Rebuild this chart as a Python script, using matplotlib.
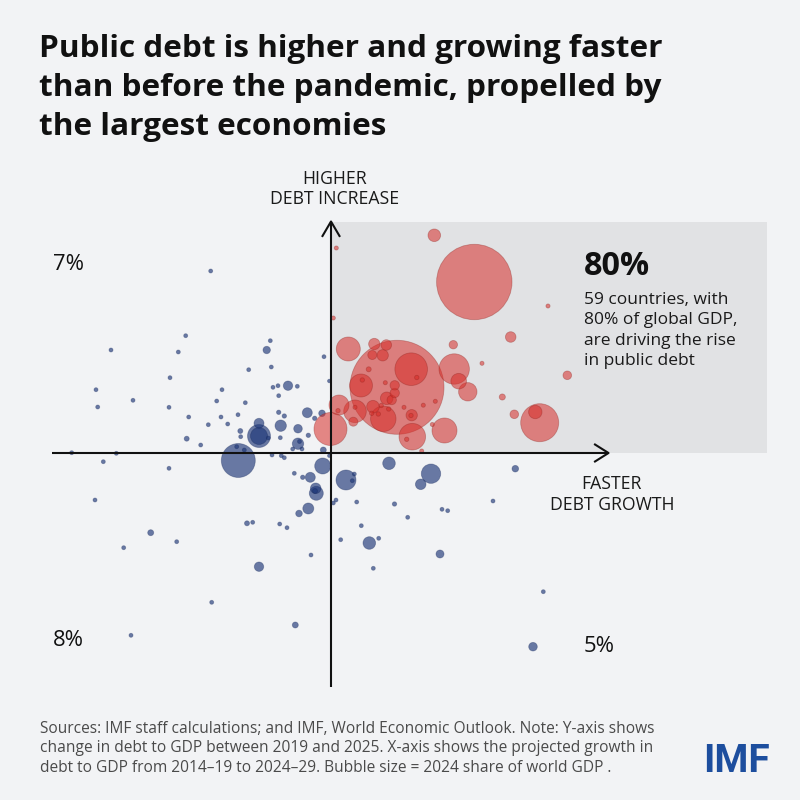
import matplotlib
matplotlib.use("Agg")
import matplotlib.pyplot as plt
from matplotlib.patches import Rectangle
import numpy as np

# ---------------- data ----------------
# x: projected growth in debt-to-GDP (relative units, 0 = axis crossing)
# y: change in debt-to-GDP 2019-2025 (relative units, 0 = axis crossing)
# share: 2024 share of world GDP (%)
red_x = [0.53, 0.23, 10.33, 14.33, 21.7, 17.97, 12.23, 15.1, 23.63, 17.13,
         18.33, 20.87, 20.43, 1.73, 4.33, 5.53, 4.13, 5.17, 6.6, 8.02,
         12.32, 12.77, 13.68, 3.77, 3.13, 3.0, 5.43, 8.58, 6.37, 6.37,
         5.57, 6.07, 4.2, 5.02, 5.77, 5.23, 4.07, 4.73, 0.8, 0.7,
         2.4, 2.4, 2.23, 7.3, 8.07, 8.0, 9.23, 10.43, 8.13, 7.57,
         11.35, 10.13, 9.07, -0.05]
red_y = [20.5, 13.5, 21.77, 17.1, 14.7, 11.6, 10.83, 8.97, 7.77, 5.6,
         3.87, 3.03, 4.1, 10.4, 10.9, 10.8, 9.8, 9.77, 6.57, 8.38,
         8.4, 7.18, 6.12, 8.37, 7.3, 6.75, 7.03, 7.55, 6.77, 6.0,
         5.47, 5.3, 4.63, 4.75, 4.4, 3.42, 3.97, 3.9, 4.8, 4.23,
         4.17, 4.57, 3.13, 4.57, 3.78, 3.75, 4.78, 5.17, 1.63, 1.37,
         2.25, 2.85, 0.2, 2.4]
red_share = [0.05, 0.05, 0.47, 16.8, 0.05, 0.33, 0.21, 0.05, 0.22, 0.11,
             0.22, 4.27, 0.53, 1.70, 0.38, 0.33, 0.24, 0.38, 26.1, 3.14,
             2.73, 0.72, 1.0, 0.074, 0.057, 1.56, 0.05, 0.057, 0.26, 0.26,
             0.47, 0.26, 0.47, 0.057, 0.057, 1.91, 0.057, 0.057, 1.18, 0.057,
             1.51, 0.05, 0.24, 0.05, 0.38, 0.057, 0.05, 0.05, 2.09, 0.057,
             1.85, 0.05, 0.05, 3.22]

blue_x = [-12.03, -14.53, -22.0, -15.27, -6.07, -6.43, -8.23, -5.97, -16.1, -23.5,
          -10.9, -5.8, -5.3, -4.3, -3.37, -5.23, -23.33, -19.8, -16.2, -11.43,
          -8.57, -14.23, -11.0, -9.3, -12.27, -10.33, -5.23, -4.67, -2.37, -1.63,
          -0.9, -0.7, -0.17, -9.07, -9.03, -7.2, -7.2, -7.2, -5.03, -3.3,
          -5.07, -2.27, -3.3, -13.03, -14.43, -9.43, -8.67, -9.27, -25.93, -21.47,
          -3.83, -2.9, -0.77, -5.9, -4.97, -4.67, -0.17, -0.83, -3.67, -2.83,
          -2.07, -1.53, -1.47, -2.27, -3.2, 1.5, 2.13, 2.33, 5.8, 0.23,
          0.5, 2.57, 6.35, -22.77, -16.2, -23.6, -18.03, -15.43, -20.73, -8.4,
          -7.83, -5.13, -4.4, 3.03, 0.97, 3.83, 4.77, -2.0, 4.23, -7.2,
          -11.93, -3.57, -20.0, 10.0, 8.97, 18.43, 16.2, 11.1, 11.67, 7.67,
          10.9, 21.23, 20.2, -1.6, -3.15, -6.27]
blue_y = [18.2, 11.73, 10.3, 10.1, 11.23, 10.3, 8.33, 8.6, 7.53, 6.33,
          6.33, 6.57, 6.73, 6.73, 6.67, 5.73, 4.6, 5.27, 4.57, 5.2,
          5.03, 3.6, 3.6, 3.83, 2.83, 2.9, 4.07, 3.7, 4.03, 3.47,
          3.97, 9.63, 7.2, 2.2, 1.63, 2.97, 1.7, 1.7, 2.73, 2.43,
          1.53, 1.77, 0.93, 0.8, 1.43, 0.63, 0.3, -0.75, 0.03, -0.03,
          0.4, 0.4, 0.3, -0.2, -0.27, -0.47, -0.27, -1.3, -2.03, -2.43,
          -2.43, -3.53, -4.03, -5.55, -6.05, -2.7, -2.77, -2.1, -1.03, -5.0,
          -4.7, -4.9, -5.1, -0.87, -1.53, -4.7, -7.97, -8.87, -9.47, -7.03,
          -6.93, -7.1, -7.47, -7.27, -8.67, -9.0, -8.53, -10.2, -11.53, -11.37,
          -14.93, -17.2, -18.23, -2.07, -3.13, -1.57, -4.8, -5.63, -5.77, -6.43,
          -10.1, -13.87, -19.37, -3.8, 1.15, 1.5]
blue_share = [0.047, 0.047, 0.047, 0.047, 0.047, 0.162, 0.047, 0.047, 0.047, 0.047,
              0.047, 0.047, 0.047, 0.261, 0.047, 0.047, 0.047, 0.047, 0.047, 0.047,
              0.047, 0.047, 0.047, 0.047, 0.047, 0.047, 0.057, 0.057, 0.295, 0.057,
              0.129, 0.047, 0.038, 0.074, 0.047, 0.295, 1.56, 0.854, 0.384, 0.218,
              0.047, 0.057, 0.384, 0.047, 0.074, 0.047, 0.047, 3.41, 0.047, 0.047,
              0.047, 0.047, 0.106, 0.047, 0.047, 0.047, 0.038, 0.756, 0.047, 0.057,
              0.295, 0.332, 0.579, 0.357, 0.129, 1.18, 0.047, 0.047, 0.469, 0.047,
              0.047, 0.047, 0.057, 0.047, 0.047, 0.047, 0.106, 0.047, 0.047, 0.074,
              0.047, 0.047, 0.047, 0.047, 0.047, 0.469, 0.047, 0.047, 0.047, 0.261,
              0.047, 0.106, 0.047, 1.11, 0.332, 0.129, 0.047, 0.047, 0.047, 0.047,
              0.189, 0.047, 0.218, 0.074, 0.047, 0.047]

title_lines = ["Public debt is higher and growing faster",
               "than before the pandemic, propelled by",
               "the largest economies"]
note_lines = ["Sources: IMF staff calculations; and IMF, World Economic Outlook. Note: Y-axis shows",
              "change in debt to GDP between 2019 and 2025. X-axis shows the projected growth in",
              "debt to GDP from 2014\u201319 to 2024\u201329. Bubble size = 2024 share of world GDP ."]
callout_big = "80%"
callout_lines = ["59 countries, with", "80% of global GDP,", "are driving the rise", "in public debt"]
quadrant_labels = ["7%", "8%", "5%"]
y_axis_label = ["HIGHER", "DEBT INCREASE"]
x_axis_label = ["FASTER", "DEBT GROWTH"]
logo = "IMF"

# ---------------- figure ----------------
W, H = 800, 800
BG = "#f2f3f5"
SHADE = "#e1e2e4"
FONT = ["Open Sans", "Lato", "DejaVu Sans"]

fig = plt.figure(figsize=(8, 8), dpi=100)
fig.patch.set_facecolor(BG)
ax = fig.add_axes([0, 0, 1, 1])
ax.set_facecolor(BG)
X0, Y0, PX = 331, 453, 10  # origin pixel and px per unit
ax.set_xlim(-X0 / PX, (W - X0) / PX)
ax.set_ylim(-(H - Y0) / PX, Y0 / PX)
ax.axis("off")

# shaded quadrant
ax.add_patch(Rectangle((0, 0), 43.6, 23.1, facecolor=SHADE, edgecolor="none", zorder=0))

# bubbles
SIZE_K = 175.5  # points^2 per % share


def bubbles(xs, ys, shares, color, edge):
    xs, ys, shares = map(np.asarray, (xs, ys, shares))
    order = np.argsort(-shares)
    ax.scatter(xs[order], ys[order], s=shares[order] * SIZE_K, c=[color],
               edgecolors=[edge], linewidths=0.6, zorder=3)


bubbles(blue_x, blue_y, blue_share, (30 / 255, 55 / 255, 120 / 255, 0.65), (0.08, 0.15, 0.35, 0.35))
bubbles(red_x, red_y, red_share, (215 / 255, 45 / 255, 40 / 255, 0.55), (0.55, 0.12, 0.1, 0.35))

# axes with chevron arrow heads
LC = "#111111"
ax.plot([-27.9, 27.7], [0, 0], color=LC, lw=1.5, zorder=4, solid_capstyle="butt")
ax.plot([0, 0], [-23.4, 23.1], color=LC, lw=1.5, zorder=4, solid_capstyle="butt")
ax.plot([26.4, 27.75, 26.4], [0.85, 0, -0.85], color=LC, lw=1.5, zorder=4)
ax.plot([-0.85, 0, 0.85], [21.7, 23.15, 21.7], color=LC, lw=1.5, zorder=4)

renderer = fig.canvas.get_renderer()


def ftext(px, py, s, **kw):
    kw.setdefault("family", FONT)
    kw.setdefault("va", "baseline")
    return fig.text(px / W, 1 - py / H, s, **kw)


def fit_size(s, target_w, base=12, **kw):
    t = ftext(0, 0, s, fontsize=base, **kw)
    w = t.get_window_extent(renderer).width
    t.remove()
    return base * target_w / w


# title
ts = fit_size(title_lines[0], 622, fontweight="bold")
for i, line in enumerate(title_lines):
    ftext(39, 57.5 + i * 38.5, line, fontsize=ts, fontweight="bold", color="#111111")

# axis labels
als = fit_size(x_axis_label[1], 124)
ftext(335, 183.5, y_axis_label[0], fontsize=als, color="#1a1a1a", ha="center")
ftext(335, 204, y_axis_label[1], fontsize=als, color="#1a1a1a", ha="center")
ftext(611, 489.5, x_axis_label[0], fontsize=als, color="#1a1a1a", ha="center")
ftext(612, 510, x_axis_label[1], fontsize=als, color="#1a1a1a", ha="center")

# quadrant shares
qs = fit_size(quadrant_labels[0], 31)
for lab, (px, py) in zip(quadrant_labels, [(53, 269.5), (53, 646.5), (584, 652)]):
    ftext(px, py, lab, fontsize=qs, color="#111111")

# callout
bs = fit_size(callout_big, 66, fontweight="bold")
ftext(583.5, 275, callout_big, fontsize=bs, fontweight="bold", color="#111111")
cs = fit_size(callout_lines[1], 153)
for i, line in enumerate(callout_lines):
    ftext(584, 304 + i * 20.4, line, fontsize=cs, color="#1a1a1a")

# footnote
ns = fit_size(note_lines[0], 611)
for i, line in enumerate(note_lines):
    ftext(40, 733 + i * 19.5, line, fontsize=ns, color="#4a4a4a")

# logo
ls = fit_size(logo, 66, fontweight="bold", family=["Roboto", "DejaVu Sans"])
ftext(736, 771.5, logo, fontsize=ls, fontweight="bold", color="#1d4e9e", ha="center",
      family=["Roboto", "DejaVu Sans"])

fig.savefig("out.png", dpi=100, facecolor=BG)
